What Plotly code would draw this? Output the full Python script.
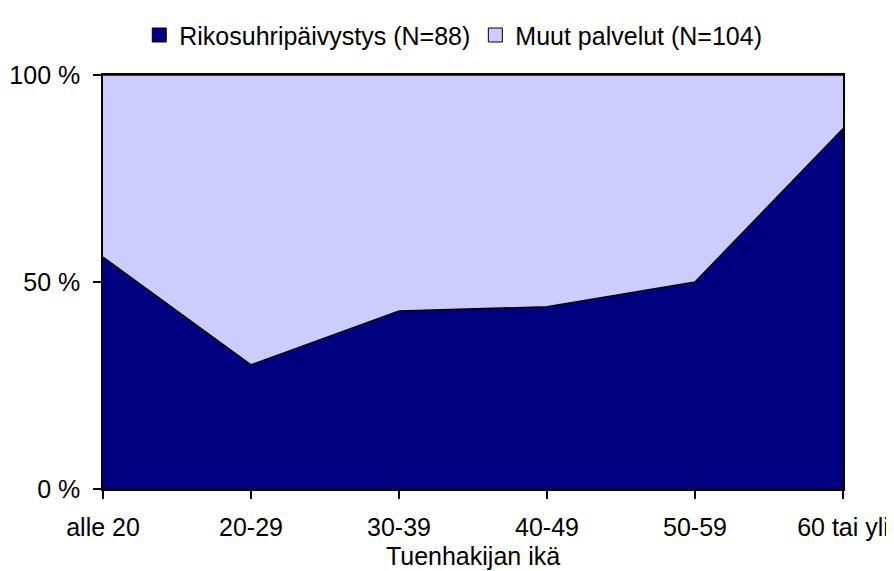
import plotly.graph_objects as go

categories = ["alle 20", "20-29", "30-39", "40-49", "50-59", "60 tai yli"]
rikos_pct = [56, 30, 43, 44, 50, 87]
muut_pct = [44, 70, 57, 56, 50, 13]
series_names = ["Rikosuhripäivystys (N=88)", "Muut palvelut (N=104)"]
series_colors = ["#000080", "#CCCCFF"]
y_ticks = [0, 50, 100]
y_tick_labels = ["0 %", "50 %", "100 %"]

xs = list(range(len(categories)))
font = "Liberation Sans, Arial, sans-serif"

fig = go.Figure()
for vals, name, col in zip([rikos_pct, muut_pct], series_names, series_colors):
    fig.add_trace(go.Scatter(
        x=xs, y=vals, name=name, stackgroup="one",
        mode="lines", line=dict(color="black", width=1.5),
        fillcolor=col, showlegend=False,
    ))
for name, col in zip(series_names, series_colors):
    fig.add_trace(go.Scatter(
        x=[None], y=[None], name=name, mode="markers",
        marker=dict(symbol="square", size=14, color=col, line=dict(color="black", width=1)),
        showlegend=True,
    ))

# page body has an 8px margin; figure is sized so the plot lands where the reference has it
fig.update_layout(
    width=886, height=563,
    margin=dict(l=95, r=51, t=67, b=82, autoexpand=False),
    paper_bgcolor="white", plot_bgcolor="white",
    font=dict(family=font, size=25, color="black"),
    showlegend=True,
    legend=dict(orientation="h", x=0.049, xanchor="left", y=1.096, yanchor="middle",
                font=dict(size=25), itemwidth=30, tracegroupgap=0,
                traceorder="normal", bgcolor="rgba(0,0,0,0)"),
    xaxis=dict(
        range=[0, len(categories) - 1], tickvals=xs, ticktext=categories,
        showgrid=False, zeroline=False, showline=True, linecolor="black", linewidth=1.5,
        mirror=True, ticks="outside", ticklen=8, tickcolor="black", tickwidth=1.5,
        ticklabelstandoff=7, automargin=False,
        title=dict(text="Tuenhakijan ikä", standoff=8, font=dict(size=25)),
    ),
    yaxis=dict(
        range=[0, 100], tickvals=y_ticks, ticktext=y_tick_labels,
        showgrid=False, zeroline=False, showline=True, linecolor="black", linewidth=1.5,
        mirror=True, ticks="outside", ticklen=8, tickcolor="black", tickwidth=1.5,
        ticklabelstandoff=8, automargin=False,
    ),
)

fig.write_html("out.html")
